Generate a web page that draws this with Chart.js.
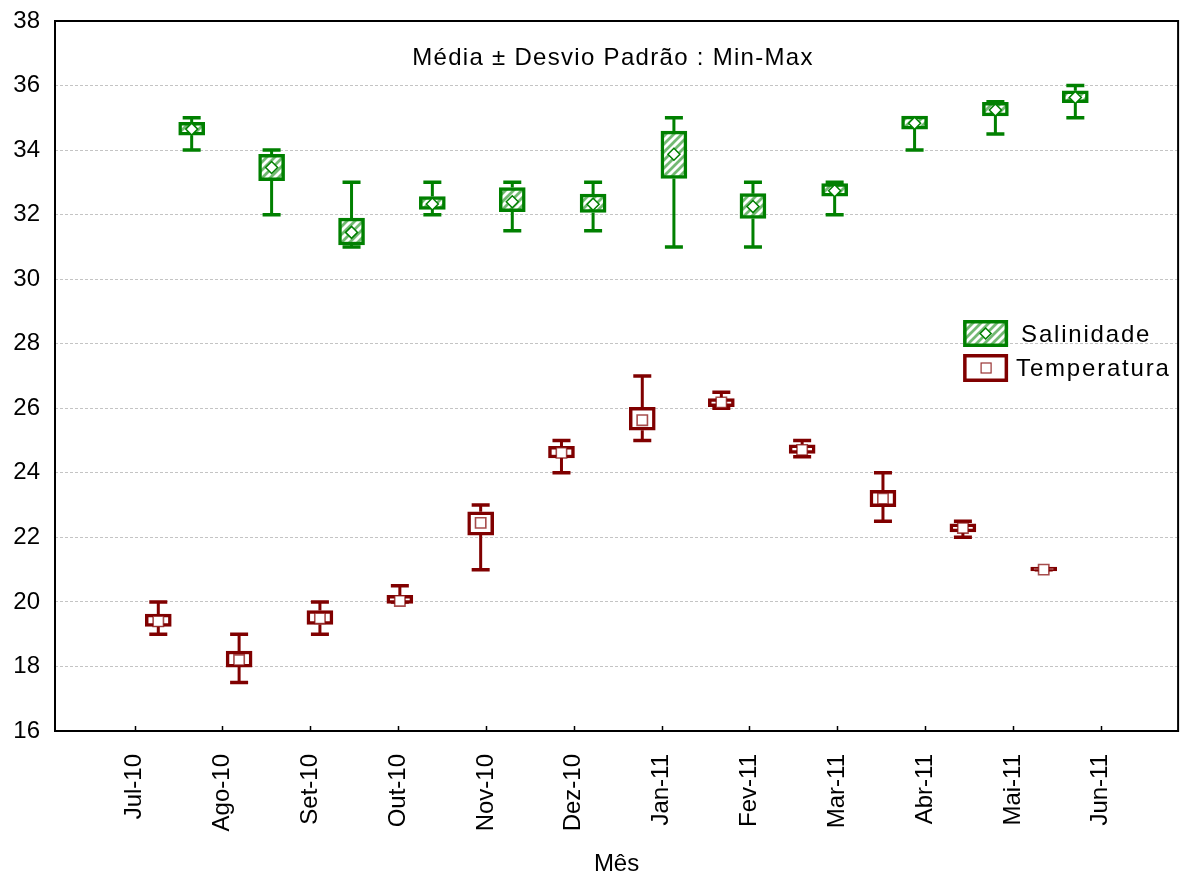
<!DOCTYPE html>
<html>
<head>
<meta charset="utf-8">
<script src="https://cdn.jsdelivr.net/npm/chart.js@4.4.1/dist/chart.umd.min.js"></script>
<style>
  html, body { margin: 0; padding: 0; background: #fff; }
</style>
</head>
<body>
<canvas id="chart" width="1187" height="879"></canvas>
<script>
// month tick labels and their positions on the x axis
const months = ['Jul-10', 'Ago-10', 'Set-10', 'Out-10', 'Nov-10', 'Dez-10', 'Jan-11', 'Fev-11', 'Mar-11', 'Abr-11', 'Mai-11', 'Jun-11'];
const monthPos = [0, 1, 2, 3, 4, 5, 6, 7, 8, 9, 10, 11];

// where the boxes sit (the plotting program shifts them off the ticks)
const tempX = [0.27, 1.19, 2.11, 3.02, 3.94, 4.86, 5.78, 6.68, 7.60, 8.52, 9.43, 10.35];
const salX = [0.65, 1.56, 2.47, 3.39, 4.30, 5.22, 6.14, 7.04, 7.97, 8.88, 9.80, 10.71];

// Salinidade: mean, mean-sd, mean+sd, min, max
const salMean = [34.65, 33.46, 31.45, 32.33, 32.40, 32.32, 33.87, 32.25, 32.74, 34.83, 35.24, 35.63];
const salLo   = [34.46, 33.05, 31.06, 32.16, 32.09, 32.07, 33.12, 31.88, 32.57, 34.65, 35.06, 35.47];
const salHi   = [34.86, 33.87, 31.89, 32.56, 32.84, 32.64, 34.59, 32.65, 32.96, 35.05, 35.48, 35.84];
const salMin  = [34.0, 32.0, 31.0, 32.0, 31.5, 31.5, 31.0, 31.0, 32.0, 34.0, 34.5, 35.0];
const salMax  = [35.0, 34.0, 33.0, 33.0, 33.0, 33.0, 35.0, 33.0, 33.0, 35.0, 35.5, 36.0];

// Temperatura: mean, mean-sd, mean+sd, min, max
const tempMean = [19.40, 18.20, 19.49, 20.03, 22.45, 24.62, 25.63, 26.18, 24.71, 23.20, 22.29, 21.00];
const tempLo   = [19.24, 17.98, 19.30, 19.95, 22.07, 24.46, 25.32, 26.05, 24.60, 22.95, 22.17, 20.96];
const tempHi   = [19.62, 18.48, 19.73, 20.20, 22.79, 24.82, 26.03, 26.30, 24.87, 23.46, 22.42, 21.08];
const tempMin  = [19.0, 17.5, 19.0, 20.0, 21.0, 24.0, 25.0, 26.0, 24.5, 22.5, 22.0, 21.0];
const tempMax  = [20.0, 19.0, 20.0, 20.5, 23.0, 25.0, 27.0, 26.5, 25.0, 24.0, 22.5, 21.0];

const green = '#008000';
const red = '#800000';
const FONT = "'Liberation Sans', Arial, sans-serif";

// diagonal hatch for the salinity boxes
function makeHatch() {
    const c = document.createElement('canvas');
    c.width = 8; c.height = 8;
    const g = c.getContext('2d');
    g.fillStyle = '#fff';
    g.fillRect(0, 0, 8, 8);
    g.strokeStyle = 'rgba(0,128,0,0.55)';
    g.lineWidth = 2.8;
    g.beginPath();
    g.moveTo(-1, 9); g.lineTo(9, -1);
    g.moveTo(-3, 3); g.lineTo(3, -3);
    g.moveTo(5, 11); g.lineTo(11, 5);
    g.stroke();
    return g.createPattern(c, 'repeat');
}
const hatch = makeHatch();

function drawWhiskers(ctx, x, y, xs, lo, hi, mn, mx, color) {
    ctx.strokeStyle = color;
    xs.forEach((v, i) => {
        const px = x.getPixelForValue(v);
        ctx.lineWidth = 3;
        ctx.beginPath();
        ctx.moveTo(px, y.getPixelForValue(mx[i]));
        ctx.lineTo(px, y.getPixelForValue(hi[i]));
        ctx.moveTo(px, y.getPixelForValue(lo[i]));
        ctx.lineTo(px, y.getPixelForValue(mn[i]));
        ctx.stroke();
        ctx.lineWidth = 3.5;
        ctx.beginPath();
        [mn[i], mx[i]].forEach(val => {
            const py = y.getPixelForValue(val);
            ctx.moveTo(px - 9, py);
            ctx.lineTo(px + 9, py);
        });
        ctx.stroke();
    });
}

const whiskerPlugin = {
    id: 'whiskers',
    beforeDatasetsDraw(chart) {
        const { ctx, scales: { x, y } } = chart;
        ctx.save();
        drawWhiskers(ctx, x, y, salX, salLo, salHi, salMin, salMax, green);
        drawWhiskers(ctx, x, y, tempX, tempLo, tempHi, tempMin, tempMax, red);
        ctx.restore();
    }
};

// frame, inward x ticks, title and legend
const decorPlugin = {
    id: 'decor',
    afterDraw(chart) {
        const { ctx, chartArea: a, scales: { x } } = chart;
        ctx.save();
        ctx.strokeStyle = '#000';
        ctx.lineWidth = 2;
        ctx.strokeRect(a.left, a.top, a.right - a.left, a.bottom - a.top);
        ctx.lineWidth = 1.5;
        ctx.beginPath();
        monthPos.forEach(v => {
            const px = Math.round(x.getPixelForValue(v)) + 0.5;
            ctx.moveTo(px, a.bottom);
            ctx.lineTo(px, a.bottom - 5);
        });
        ctx.stroke();

        // title
        ctx.fillStyle = '#000';
        ctx.font = '24px ' + FONT;
        ctx.letterSpacing = '1.3px';
        ctx.textAlign = 'center';
        ctx.textBaseline = 'alphabetic';
        ctx.fillText('Média ± Desvio Padrão : Min-Max', 613, a.top + 44);

        // legend
        const lx = a.right - 215, ly = a.top + 299;
        ctx.fillStyle = hatch;
        ctx.fillRect(lx, ly, 45, 27);
        ctx.strokeStyle = green;
        ctx.lineWidth = 3.5;
        ctx.strokeRect(lx + 1.75, ly + 1.75, 41.5, 23.5);
        ctx.fillStyle = '#fff';
        ctx.lineWidth = 1.5;
        ctx.beginPath();
        const cx = lx + 22.5, cy = ly + 13.5;
        ctx.moveTo(cx, cy - 5.5); ctx.lineTo(cx + 5.5, cy); ctx.lineTo(cx, cy + 5.5); ctx.lineTo(cx - 5.5, cy); ctx.closePath();
        ctx.fill(); ctx.stroke();

        const ty = ly + 34;
        ctx.fillStyle = '#fff';
        ctx.fillRect(lx, ty, 45, 28);
        ctx.strokeStyle = red;
        ctx.lineWidth = 3.5;
        ctx.strokeRect(lx + 1.75, ty + 1.75, 41.5, 24.5);
        ctx.lineWidth = 1.2;
        ctx.strokeStyle = 'rgba(128,0,0,0.8)';
        ctx.strokeRect(lx + 18, ty + 9, 10, 10);

        ctx.fillStyle = '#000';
        ctx.font = '24px ' + FONT;
        ctx.letterSpacing = '1.8px';
        ctx.textAlign = 'left';
        ctx.fillText('Salinidade', lx + 58, ly + 22);
        ctx.fillText('Temperatura', lx + 53, ty + 22);
        ctx.restore();
    }
};

Chart.defaults.font.family = FONT;
Chart.defaults.color = '#000';

new Chart(document.getElementById('chart'), {
    type: 'bar',
    data: {
        datasets: [
            {
                type: 'scatter', label: 'Salinidade',
                data: salX.map((v, i) => ({ x: v, y: salMean[i] })),
                pointStyle: 'rectRot', pointRadius: 6,
                pointBackgroundColor: '#fff', pointBorderColor: green, pointBorderWidth: 1.5,
                order: 0
            },
            {
                type: 'scatter', label: 'Temperatura',
                data: tempX.map((v, i) => ({ x: v, y: tempMean[i] })),
                pointStyle: 'rect', pointRadius: 7.3,
                pointBackgroundColor: '#fff', pointBorderColor: 'rgba(128,0,0,0.7)', pointBorderWidth: 1.6,
                order: 0
            },
            {
                label: 'Salinidade sd',
                data: salX.map((v, i) => ({ x: v, y: [salLo[i], salHi[i]] })),
                backgroundColor: hatch, borderColor: green, borderWidth: 3.5,
                borderSkipped: false, barThickness: 26, grouped: false,
                order: 1
            },
            {
                label: 'Temperatura sd',
                data: tempX.map((v, i) => ({ x: v, y: [tempLo[i], tempHi[i]] })),
                backgroundColor: '#fff', borderColor: red, borderWidth: 3.5,
                borderSkipped: false, barThickness: 26, grouped: false,
                order: 1
            }
        ]
    },
    options: {
        responsive: false,
        animation: false,
        layout: { padding: { top: 21, right: 3, left: 0, bottom: 0 } },
        plugins: { legend: { display: false }, tooltip: { enabled: false } },
        scales: {
            x: {
                type: 'linear',
                min: -0.906,
                max: 11.88,
                offset: false,
                afterBuildTicks: scale => { scale.ticks = monthPos.map(v => ({ value: v })); },
                afterFit: scale => {
                    scale.height = 148;
                    scale.paddingLeft = 0; scale.paddingRight = 0;
                    scale.paddingTop = 0; scale.paddingBottom = 0;
                },
                grid: { display: false, offset: false },
                border: { display: false },
                ticks: {
                    autoSkip: false,
                    minRotation: 90, maxRotation: 90,
                    padding: 15,
                    font: { size: 24 },
                    callback: v => months[monthPos.indexOf(v)]
                },
                title: { display: true, text: 'Mês', font: { size: 24 }, padding: { top: 0, bottom: 0 } }
            },
            y: {
                min: 16, max: 38,
                afterFit: scale => {
                    scale.width = 55;
                    scale.paddingTop = 0; scale.paddingBottom = 0;
                },
                border: { display: false, dash: [3, 2] },
                grid: { color: '#c4c4c4', lineWidth: 1, drawTicks: false },
                ticks: { stepSize: 2, padding: 15, font: { size: 24 } }
            }
        }
    },
    plugins: [whiskerPlugin, decorPlugin]
});
</script>
</body>
</html>
